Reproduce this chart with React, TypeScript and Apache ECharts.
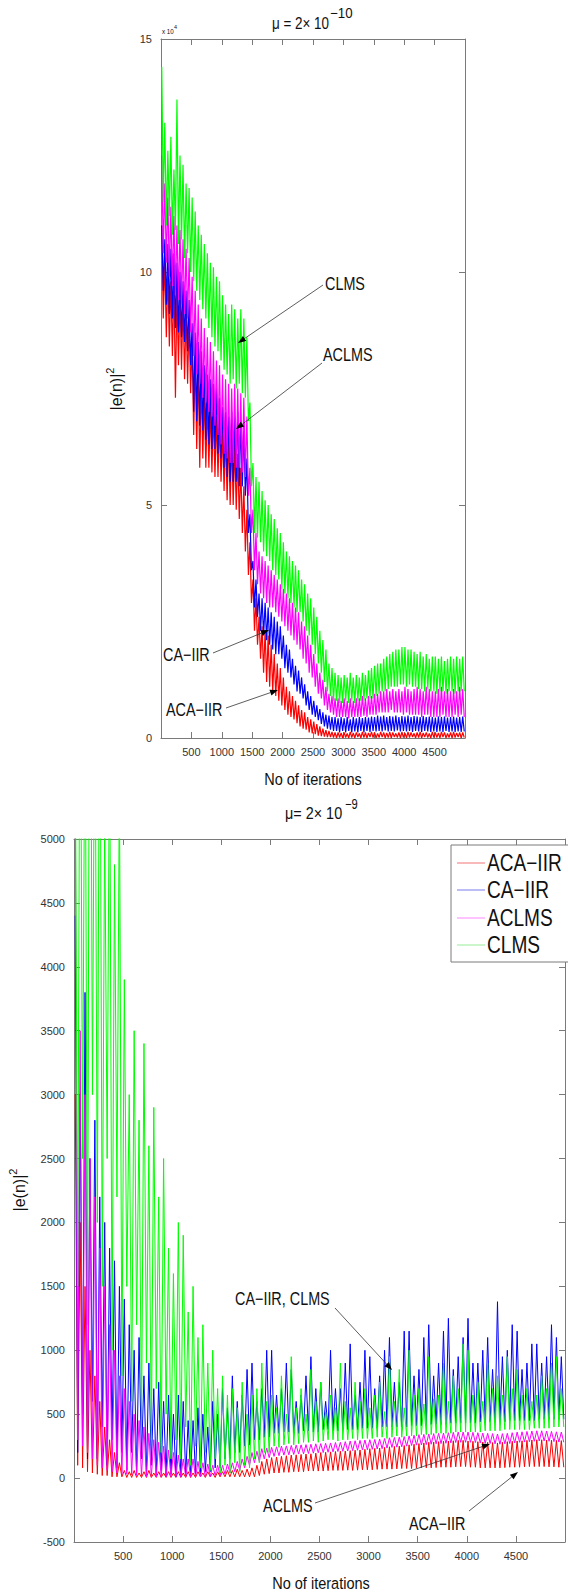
import React, { useEffect, useRef } from "react";
import * as echarts from "echarts";

const FONT = "'Liberation Sans', Arial, Helvetica, sans-serif";

const SERIES_NAMES = ["ACA−IIR", "CA−IIR", "ACLMS", "CLMS"];
const SERIES_COLORS = ["#ff0000", "#0000ff", "#ff00ff", "#00ff00"];
const LEGEND_COLORS = ["#f28a8a", "#8f8ff2", "#ff9cff", "#a8eea8"];

// iteration index of each sample (every 25 iterations, centred in its slot)
const ITERATIONS = Array.from({ length: 200 }, (_, k) => 12.5 + 25 * k);

// ---- top chart, mu = 2e-10, values in units of 10^4 ----
const topRed = [
  11.0, 9.0, 10.3, 8.6, 10.0, 8.4, 9.8, 8.2, 9.9, 7.3, 9.6, 8.0, 9.5, 7.9, 9.4, 7.7, 9.2, 7.6, 9.0, 7.4,
  8.5, 6.5, 8.2, 6.2, 8.0, 5.8, 7.7, 6.0, 7.4, 5.8, 7.2, 5.8, 7.1, 5.7, 7.0, 5.6, 6.9, 5.6, 6.8, 5.5,
  6.6, 5.3, 6.5, 5.1, 6.5, 5.0, 6.4, 5.0, 6.3, 4.9, 6.1, 4.7, 5.8, 4.4, 5.4, 4.0, 4.9, 3.5, 4.2, 2.9,
  3.4, 2.3, 3.0, 2.0, 2.6, 1.7, 2.4, 1.4, 2.3, 1.2, 2.2, 1.1, 2.0, 1.0, 1.8, 0.9, 1.6, 0.8, 1.5, 0.7,
  1.3, 0.6, 1.1, 0.5, 1.0, 0.45, 0.9, 0.4, 0.8, 0.32, 0.7, 0.25, 0.6, 0.2, 0.55, 0.18, 0.45, 0.12, 0.4, 0.1,
  0.35, 0.08, 0.3, 0.05, 0.25, 0.04, 0.2, 0.03, 0.17, 0.02, 0.15, 0.02, 0.13, 0.01, 0.12, 0.0, 0.12, 0.01, 0.11, 0.0,
  0.12, 0.01, 0.1, 0.0, 0.13, 0.01, 0.11, 0.0, 0.12, 0.02, 0.1, 0.0, 0.13, 0.01, 0.12, 0.0, 0.11, 0.02, 0.13, 0.01,
  0.12, 0.0, 0.1, 0.01, 0.13, 0.02, 0.12, 0.0, 0.11, 0.01, 0.13, 0.0, 0.12, 0.02, 0.1, 0.01, 0.12, 0.0, 0.13, 0.01,
  0.11, 0.0, 0.13, 0.01, 0.12, 0.02, 0.1, 0.0, 0.12, 0.01, 0.13, 0.0, 0.11, 0.02, 0.12, 0.01, 0.1, 0.0, 0.13, 0.01,
  0.12, 0.01, 0.11, 0.0, 0.13, 0.02, 0.12, 0.0, 0.1, 0.01, 0.12, 0.0, 0.13, 0.01, 0.11, 0.02, 0.12, 0.0, 0.12, 0.01,
];
const topBlue = [
  11.0, 9.6, 10.7, 9.3, 10.6, 9.1, 10.5, 9.0, 10.4, 8.8, 10.2, 8.7, 10.0, 8.6, 9.8, 8.5, 9.6, 8.3, 9.4, 8.0,
  8.9, 7.0, 8.7, 6.8, 8.5, 6.7, 8.3, 6.6, 8.0, 6.4, 7.8, 6.3, 7.7, 6.2, 7.6, 6.2, 7.5, 6.1, 7.3, 6.0,
  7.1, 5.8, 7.0, 5.6, 6.9, 5.5, 7.0, 5.5, 6.9, 5.5, 7.0, 5.4, 6.8, 5.4, 6.6, 5.2, 6.0, 4.4, 4.8, 3.6,
  3.8, 2.8, 3.4, 2.6, 3.1, 2.3, 3.0, 2.2, 2.9, 2.1, 2.8, 2.0, 2.7, 1.9, 2.6, 1.8, 2.5, 1.8, 2.4, 1.7,
  2.2, 1.5, 2.0, 1.4, 1.9, 1.3, 1.7, 1.15, 1.55, 1.0, 1.45, 0.95, 1.3, 0.85, 1.15, 0.7, 1.0, 0.6, 0.9, 0.5,
  0.8, 0.45, 0.7, 0.38, 0.62, 0.3, 0.55, 0.25, 0.5, 0.2, 0.48, 0.18, 0.45, 0.15, 0.45, 0.15, 0.42, 0.12, 0.45, 0.15,
  0.42, 0.12, 0.45, 0.15, 0.4, 0.12, 0.45, 0.14, 0.42, 0.12, 0.45, 0.15, 0.43, 0.12, 0.45, 0.15, 0.44, 0.13, 0.46, 0.15,
  0.45, 0.14, 0.48, 0.15, 0.46, 0.14, 0.48, 0.16, 0.45, 0.14, 0.47, 0.15, 0.46, 0.14, 0.48, 0.16, 0.45, 0.14, 0.47, 0.15,
  0.46, 0.14, 0.48, 0.15, 0.45, 0.13, 0.47, 0.15, 0.46, 0.14, 0.45, 0.13, 0.47, 0.15, 0.45, 0.14, 0.46, 0.13, 0.45, 0.14,
  0.44, 0.13, 0.46, 0.14, 0.45, 0.13, 0.46, 0.15, 0.44, 0.13, 0.45, 0.14, 0.46, 0.13, 0.44, 0.14, 0.45, 0.13, 0.46, 0.14,
];
const topMagenta = [
  12.5, 10.4, 11.9, 10.2, 11.6, 9.9, 11.4, 9.7, 11.2, 9.5, 11.0, 9.4, 10.9, 9.3, 10.7, 9.1, 10.5, 9.0, 10.3, 8.7,
  9.9, 8.2, 9.6, 7.8, 9.3, 7.6, 9.0, 7.3, 8.8, 7.2, 8.6, 7.0, 8.5, 6.9, 8.3, 6.7, 8.1, 6.5, 8.0, 6.3,
  7.8, 6.1, 7.7, 6.0, 7.6, 5.9, 7.5, 5.9, 7.6, 5.8, 7.5, 5.8, 7.4, 5.7, 7.3, 5.6, 6.9, 5.2, 5.8, 4.4,
  4.9, 3.6, 4.4, 3.3, 4.0, 3.1, 3.9, 3.0, 3.8, 2.9, 3.7, 2.8, 3.6, 2.8, 3.5, 2.7, 3.4, 2.6, 3.3, 2.5,
  3.2, 2.4, 3.1, 2.3, 3.0, 2.2, 2.9, 2.1, 2.8, 2.0, 2.7, 1.9, 2.5, 1.7, 2.4, 1.6, 2.2, 1.4, 2.0, 1.3,
  1.8, 1.1, 1.6, 0.95, 1.4, 0.85, 1.25, 0.7, 1.1, 0.6, 0.95, 0.55, 0.9, 0.5, 0.85, 0.45, 0.85, 0.45, 0.8, 0.45,
  0.85, 0.45, 0.8, 0.42, 0.85, 0.45, 0.8, 0.45, 0.85, 0.45, 0.85, 0.45, 0.9, 0.48, 0.85, 0.45, 0.9, 0.5, 0.9, 0.5,
  0.95, 0.5, 0.95, 0.55, 1.0, 0.55, 1.0, 0.55, 1.05, 0.55, 1.0, 0.6, 1.05, 0.55, 1.0, 0.55, 1.05, 0.55, 1.0, 0.5,
  1.1, 0.55, 1.05, 0.5, 1.0, 0.5, 1.05, 0.5, 1.1, 0.5, 1.05, 0.45, 1.0, 0.5, 1.1, 0.5, 1.05, 0.45, 1.0, 0.45,
  1.0, 0.45, 1.05, 0.45, 1.1, 0.5, 1.0, 0.45, 1.05, 0.45, 1.0, 0.45, 1.05, 0.5, 1.0, 0.45, 1.1, 0.5, 1.05, 0.45,
];
const topGreen = [
  14.4, 11.5, 13.2, 11.0, 12.6, 11.2, 12.9, 10.8, 12.2, 10.9, 13.7, 10.6, 12.5, 10.7, 12.3, 10.3, 11.9, 10.4, 11.8, 10.0,
  11.6, 9.8, 11.3, 9.6, 11.0, 9.4, 10.8, 9.2, 10.6, 9.0, 10.4, 8.8, 10.2, 8.6, 10.1, 8.4, 9.9, 8.3, 9.8, 8.1,
  9.5, 7.9, 9.3, 7.8, 9.1, 7.6, 9.3, 7.7, 9.2, 7.5, 9.0, 7.6, 9.2, 7.4, 9.0, 7.3, 8.6, 6.8, 7.2, 5.4,
  5.9, 4.4, 5.6, 4.3, 5.5, 4.2, 5.3, 4.0, 5.1, 3.9, 5.0, 3.8, 4.8, 3.6, 4.7, 3.5, 4.5, 3.4, 4.4, 3.2,
  4.2, 3.1, 4.0, 3.0, 3.9, 2.9, 3.8, 2.8, 3.7, 2.7, 3.6, 2.7, 3.4, 2.5, 3.3, 2.3, 3.1, 2.2, 3.0, 2.0,
  2.8, 1.8, 2.6, 1.6, 2.3, 1.4, 2.1, 1.2, 1.9, 1.0, 1.6, 0.9, 1.5, 0.8, 1.4, 0.8, 1.35, 0.75, 1.3, 0.75,
  1.35, 0.8, 1.3, 0.75, 1.4, 0.8, 1.3, 0.75, 1.35, 0.8, 1.3, 0.8, 1.4, 0.8, 1.35, 0.85, 1.45, 0.85, 1.5, 0.85,
  1.55, 0.9, 1.6, 0.95, 1.6, 1.0, 1.7, 1.0, 1.75, 1.05, 1.8, 1.1, 1.85, 1.1, 1.9, 1.1, 1.9, 1.15, 1.95, 1.15,
  1.95, 1.1, 1.9, 1.15, 1.9, 1.1, 1.85, 1.1, 1.8, 1.05, 1.85, 1.05, 1.75, 1.0, 1.8, 1.05, 1.7, 1.0, 1.75, 1.0,
  1.75, 0.95, 1.7, 1.0, 1.75, 1.0, 1.65, 0.95, 1.7, 1.0, 1.75, 1.0, 1.7, 0.95, 1.75, 1.0, 1.7, 1.0, 1.75, 1.0,
];

// ---- bottom chart, mu = 2e-9 ----
const botRed = [
  3000, 100, 2000, 80, 1500, 50, 1000, 40, 800, 30, 600, 20, 400, 20, 300, 10, 200, 10, 120, 10,
  60, 5, 50, 5, 60, 5, 40, 5, 50, 5, 60, 5, 40, 5, 50, 5, 40, 5, 50, 5,
  40, 5, 50, 5, 40, 5, 50, 5, 40, 5, 50, 10, 40, 5, 50, 10, 40, 5, 50, 10,
  50, 10, 60, 10, 60, 10, 70, 10, 60, 10, 70, 10, 80, 10, 100, 20, 130, 30, 150, 35,
  160, 40, 165, 40, 170, 45, 175, 45, 180, 50, 182, 50, 185, 50, 188, 55, 190, 55, 195, 55,
  200, 55, 202, 58, 205, 60, 208, 60, 210, 60, 212, 62, 215, 60, 218, 62, 220, 65, 225, 65,
  230, 65, 232, 68, 235, 70, 240, 70, 245, 70, 248, 72, 250, 75, 255, 75, 260, 75, 265, 78,
  270, 80, 275, 80, 280, 80, 282, 82, 285, 85, 288, 85, 290, 85, 292, 88, 295, 90, 295, 90,
  290, 85, 288, 85, 285, 80, 282, 80, 280, 80, 278, 80, 275, 80, 280, 82, 285, 85, 288, 85,
  290, 85, 292, 88, 295, 90, 298, 90, 300, 90, 300, 90, 298, 88, 296, 88, 295, 85, 293, 85,
];
const botBlue = [
  4400, 200, 3000, 500, 3800, 150, 2500, 600, 2800, 150, 2200, 400, 2000, 100, 1800, 300, 1700, 80, 1500, 200,
  1400, 60, 1200, 200, 1000, 40, 1100, 150, 800, 30, 900, 100, 700, 20, 750, 60, 600, 15, 650, 30,
  500, 10, 650, 10, 600, 20, 450, 20, 450, 30, 550, 30, 500, 50, 400, 50, 600, 80, 500, 80,
  700, 150, 550, 150, 800, 200, 600, 200, 650, 250, 850, 260, 900, 300, 600, 300, 700, 320, 1000, 320,
  1000, 350, 650, 350, 700, 360, 900, 360, 850, 350, 600, 350, 650, 370, 800, 370, 950, 360, 700, 360,
  750, 380, 600, 380, 1000, 370, 700, 370, 700, 380, 900, 380, 1050, 380, 650, 380, 750, 390, 1000, 390,
  950, 390, 700, 390, 800, 400, 1000, 400, 1100, 400, 750, 400, 750, 400, 1150, 400, 1150, 410, 800, 410,
  850, 410, 1100, 410, 1200, 420, 800, 420, 900, 420, 1150, 420, 1250, 430, 850, 430, 950, 430, 1100, 430,
  1250, 430, 900, 430, 900, 440, 1000, 440, 1100, 440, 850, 440, 1380, 440, 950, 440, 1000, 450, 1200, 450,
  1150, 450, 850, 450, 900, 450, 1050, 450, 1050, 460, 900, 460, 950, 460, 1200, 460, 1100, 460, 950, 460,
];
const botMagenta = [
  5500, 300, 3500, 250, 3000, 200, 2500, 150, 2200, 100, 1800, 80, 1500, 60, 1200, 50, 1000, 40, 800, 30,
  700, 30, 600, 25, 500, 20, 450, 15, 400, 10, 350, 10, 300, 10, 280, 10, 250, 10, 220, 10,
  200, 10, 180, 10, 150, 10, 150, 10, 150, 10, 130, 10, 120, 10, 110, 10, 100, 20, 100, 20,
  100, 30, 110, 40, 120, 50, 130, 60, 150, 80, 170, 100, 200, 120, 210, 130, 230, 150, 235, 160,
  240, 170, 245, 175, 250, 180, 252, 182, 255, 185, 258, 188, 260, 190, 262, 192, 265, 195, 268, 198,
  270, 200, 272, 202, 275, 205, 278, 208, 280, 210, 285, 212, 290, 215, 292, 218, 295, 220, 298, 222,
  300, 225, 302, 228, 305, 230, 310, 235, 315, 240, 318, 242, 320, 245, 325, 250, 330, 255, 335, 258,
  340, 260, 342, 262, 345, 265, 348, 268, 350, 270, 352, 272, 355, 275, 358, 278, 360, 280, 360, 280,
  360, 280, 358, 278, 355, 275, 352, 272, 350, 270, 348, 268, 345, 265, 348, 268, 350, 270, 355, 275,
  360, 280, 362, 282, 365, 285, 368, 288, 370, 290, 370, 290, 368, 288, 365, 285, 362, 282, 360, 280,
];
const botGreen = [
  6000, 1500, 7000, 2500, 6500, 1200, 8000, 3000, 6500, 2000, 7000, 1500, 5200, 2500, 6000, 1000, 4800, 2200, 5500, 800,
  3900, 1500, 3000, 600, 3500, 1200, 2800, 400, 3400, 900, 2600, 300, 2900, 700, 2200, 200, 2500, 500, 1800, 150,
  1600, 300, 2000, 150, 1900, 400, 1300, 100, 1500, 250, 1100, 80, 1200, 200, 900, 60, 1000, 150, 700, 40,
  800, 100, 650, 40, 700, 120, 550, 50, 750, 100, 500, 80, 650, 150, 700, 120, 900, 200, 600, 200,
  650, 250, 550, 240, 800, 260, 500, 270, 950, 260, 550, 270, 700, 280, 500, 280, 850, 290, 600, 280,
  750, 290, 520, 300, 650, 300, 550, 290, 900, 300, 600, 300, 550, 310, 750, 300, 600, 310, 700, 310,
  550, 310, 650, 320, 750, 320, 520, 310, 950, 320, 600, 330, 850, 320, 550, 330, 1000, 330, 650, 330,
  700, 340, 580, 340, 950, 340, 620, 350, 650, 350, 900, 350, 600, 350, 800, 360, 700, 360, 1050, 360,
  1000, 360, 650, 360, 750, 360, 600, 370, 900, 370, 700, 370, 800, 370, 650, 380, 950, 380, 700, 380,
  850, 380, 650, 380, 700, 380, 600, 390, 650, 390, 800, 390, 700, 390, 900, 400, 950, 400, 700, 400,
];

const TOP_SERIES = [topRed, topBlue, topMagenta, topGreen];
const BOT_SERIES = [botRed, botBlue, botMagenta, botGreen];

const X_RANGE = [0, 5000];
const X_INTERVAL = 500;
const TOP_Y = [0, 15];
const TOP_Y_INTERVAL = 5;
const BOT_Y = [-500, 5000];
const BOT_Y_INTERVAL = 500;

const AXIS_COLOR = "#7a7a7a";
const LABEL_COLOR = "#333";

function text(x: number, y: number, s: string, size: number, sx = 0.8, align = "left") {
  return {
    type: "text",
    x,
    y,
    scaleX: sx,
    z: 100,
    silent: true,
    style: {
      text: s,
      fontSize: size,
      fontFamily: FONT,
      fill: "#111",
      align,
      verticalAlign: "middle",
      textAlign: align,
      textVerticalAlign: "middle",
    },
  };
}

function arrow(x1: number, y1: number, x2: number, y2: number) {
  const a = Math.atan2(y2 - y1, x2 - x1);
  const L = 8;
  const W = 3;
  const c = Math.cos(a);
  const s = Math.sin(a);
  const bx = x2 - L * c;
  const by = y2 - L * s;
  return [
    {
      type: "line",
      z: 100,
      silent: true,
      shape: { x1, y1, x2: bx, y2: by },
      style: { stroke: "#333", lineWidth: 0.8 },
    },
    {
      type: "polygon",
      z: 100,
      silent: true,
      shape: { points: [[x2, y2], [bx - W * s, by + W * c], [bx + W * s, by - W * c]] },
      style: { fill: "#000" },
    },
  ];
}

function xAxes(gridIndex: number) {
  const common = {
    gridIndex,
    type: "value",
    min: X_RANGE[0],
    max: X_RANGE[1],
    interval: X_INTERVAL,
    splitLine: { show: false },
    axisLine: { show: true, onZero: false, lineStyle: { color: AXIS_COLOR, width: 1 } },
    axisTick: { show: true, inside: true, length: 6, lineStyle: { color: AXIS_COLOR } },
  };
  return [
    {
      ...common,
      position: "bottom",
      axisLabel: {
        show: true,
        margin: 8,
        color: LABEL_COLOR,
        fontSize: 11,
        fontFamily: FONT,
        formatter: (v: number) => (v <= X_RANGE[0] || v >= X_RANGE[1] ? "" : String(v)),
      },
    },
    { ...common, position: "top", axisLabel: { show: false } },
  ];
}

function yAxes(gridIndex: number, range: number[], interval: number) {
  const common = {
    gridIndex,
    type: "value",
    min: range[0],
    max: range[1],
    interval,
    splitLine: { show: false },
    axisLine: { show: true, onZero: false, lineStyle: { color: AXIS_COLOR, width: 1 } },
    axisTick: { show: true, inside: true, length: 6, lineStyle: { color: AXIS_COLOR } },
  };
  return [
    {
      ...common,
      position: "left",
      axisLabel: {
        show: true,
        margin: 9,
        color: LABEL_COLOR,
        fontSize: 11,
        fontFamily: FONT,
        formatter: (v: number) => String(v),
      },
    },
    { ...common, position: "right", axisLabel: { show: false } },
  ];
}

function lineSeries(values: number[], idx: number, axisIndex: number, width: number) {
  return {
    type: "line",
    name: SERIES_NAMES[idx],
    xAxisIndex: axisIndex,
    yAxisIndex: axisIndex,
    data: ITERATIONS.map((it, k) => [it, values[k]]),
    showSymbol: false,
    symbol: "none",
    silent: true,
    clip: true,
    lineStyle: { color: SERIES_COLORS[idx], width },
    itemStyle: { color: SERIES_COLORS[idx] },
  };
}

export default function App() {
  const ref = useRef<HTMLDivElement>(null);

  useEffect(() => {
    if (!ref.current) return;
    const chart = echarts.init(ref.current, null, { renderer: "svg" });

    const yTitleRich = {
      a: { fontSize: 16, fontFamily: FONT, fill: "#111", lineHeight: 24 },
      s: { fontSize: 11, fontFamily: FONT, fill: "#111", verticalAlign: "top", lineHeight: 12 },
    };
    const yTitle = (x: number, y: number) => ({
      type: "text",
      x,
      y,
      rotation: Math.PI / 2,
      z: 100,
      silent: true,
      style: {
        text: "{a||e(n)|}{s|2}",
        rich: yTitleRich,
        align: "center",
        verticalAlign: "middle",
        textAlign: "center",
        textVerticalAlign: "middle",
      },
    });

    const legendEls: any[] = [
      {
        type: "rect",
        z: 99,
        silent: true,
        shape: { x: 451, y: 845, width: 140, height: 117 },
        style: { fill: "#fff", stroke: "#7a7a7a", lineWidth: 1 },
      },
    ];
    const legendY = [863, 890, 918, 945];
    SERIES_NAMES.forEach((n, i) => {
      legendEls.push({
        type: "line",
        z: 100,
        silent: true,
        shape: { x1: 457, y1: legendY[i], x2: 485, y2: legendY[i] },
        style: { stroke: LEGEND_COLORS[i], lineWidth: 1.2 },
      });
      legendEls.push(text(487, legendY[i], n, 23, 0.83));
    });

    const graphics: any[] = [
      // top chart titles
      text(272, 24, "μ = 2× 10", 16, 0.84),
      text(330, 13, "−10", 14, 0.95),
      text(162, 31.5, "x 10", 8, 0.78),
      text(174, 27, "4", 6, 0.9),
      text(313, 779, "No of iterations", 16.5, 0.88, "center"),
      yTitle(116, 389),
      // top annotations
      text(325, 283, "CLMS", 18, 0.8),
      ...arrow(323, 285, 238, 343),
      text(323, 354, "ACLMS", 18, 0.8),
      ...arrow(322, 363, 236, 429),
      text(163, 654, "CA−IIR", 18, 0.8),
      ...arrow(213, 653, 269, 630),
      text(166, 709, "ACA−IIR", 18, 0.8),
      ...arrow(226, 708, 278, 690),

      // bottom chart titles
      text(285, 813, "μ= 2× 10", 16, 0.9),
      text(345, 805, "−9", 14, 0.8),
      text(321, 1583, "No of iterations", 16.5, 0.88, "center"),
      yTitle(19, 1190),
      // bottom annotations
      text(235, 1298, "CA−IIR, CLMS", 18, 0.8),
      ...arrow(335, 1308, 392, 1370),
      text(263, 1505, "ACLMS", 18, 0.8),
      ...arrow(315, 1503, 490, 1444),
      text(409, 1523, "ACA−IIR", 18, 0.8),
      ...arrow(469, 1511, 518, 1472),
      ...legendEls,
    ];

    const option: any = {
      animation: false,
      backgroundColor: "#ffffff",
      grid: [
        { left: 161, top: 39, width: 304, height: 699, show: false },
        { left: 74, top: 839, width: 493, height: 703, show: false },
      ],
      xAxis: [...xAxes(0), ...xAxes(1)],
      yAxis: [...yAxes(0, TOP_Y, TOP_Y_INTERVAL), ...yAxes(1, BOT_Y, BOT_Y_INTERVAL)],
      series: [
        ...TOP_SERIES.map((v, i) => lineSeries(v, i, 0, 1.2)),
        ...BOT_SERIES.map((v, i) => lineSeries(v, i, 2, 1)),
      ],
      graphic: { elements: graphics },
    };

    chart.setOption(option);
    return () => chart.dispose();
  }, []);

  return (
    <div
      ref={ref}
      style={{ position: "absolute", left: 0, top: 0, width: 568, height: 1593, background: "#fff" }}
    />
  );
}
